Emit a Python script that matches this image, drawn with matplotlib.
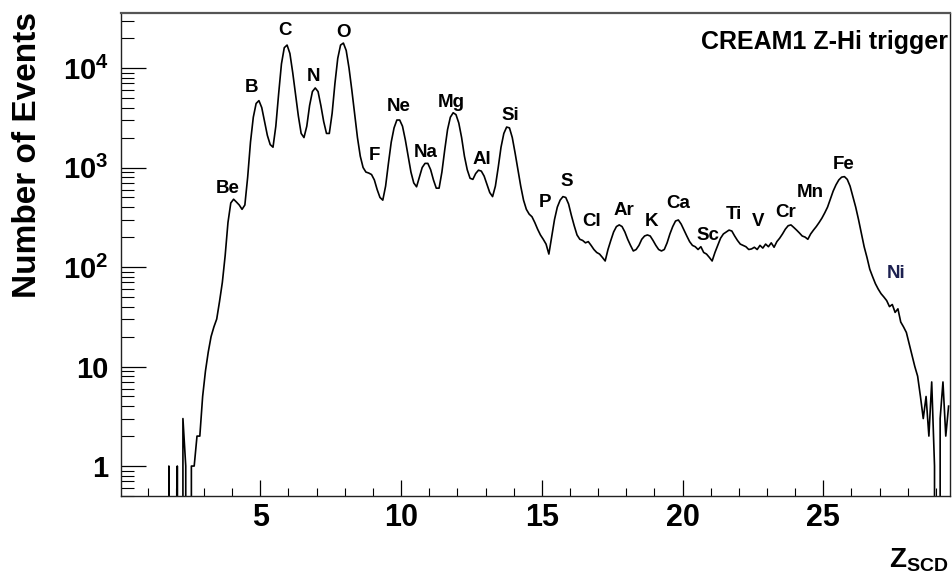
import numpy as np
import matplotlib
matplotlib.use("Agg")
import matplotlib.pyplot as plt
from matplotlib.ticker import FixedLocator, FixedFormatter, LogLocator, NullFormatter, MultipleLocator

plt.rcParams["font.family"] = ["Liberation Sans", "DejaVu Sans"]
plt.rcParams["font.weight"] = "bold"
plt.rcParams["mathtext.fontset"] = "custom"
plt.rcParams["mathtext.rm"] = "Liberation Sans:bold"
plt.rcParams["mathtext.bf"] = "Liberation Sans:bold"
plt.rcParams["mathtext.it"] = "Liberation Sans:bold"
plt.rcParams["mathtext.default"] = "rm"

# histogram of reconstructed charge, 0.1 wide bins from Z=0 to Z=29.5
bin_width = 0.1
counts = [
    0, 0, 0, 0, 0, 0, 0, 0, 0, 0,                                   # 0-1
    0, 0, 0, 0, 0, 0, 0, 1, 0, 0,                                   # 1-2
    1, 0, 3, 1, 0, 1, 1, 2, 2, 5,                                   # 2-3
    9, 14, 20, 25, 30, 45, 70, 130, 280, 440,                       # 3-4
    480, 450, 420, 380, 420, 800, 1800, 3200, 4400, 4700,           # 4-5
    4000, 2900, 2100, 1700, 1600, 2600, 5500, 11000, 16000, 17000,  # 5-6
    14000, 9000, 5500, 3300, 2200, 2000, 2600, 4200, 5800, 6300,    # 6-7
    5800, 4200, 2900, 2200, 2200, 3500, 7000, 12500, 17000, 17800,  # 7-8
    15000, 10000, 6000, 3500, 2000, 1300, 1000, 900, 880, 850,      # 8-9
    750, 600, 500, 470, 650, 1100, 1800, 2500, 3000, 3000,          # 9-10
    2600, 1900, 1300, 900, 700, 640, 800, 1000, 1100, 1100,         # 10-11
    950, 750, 620, 620, 900, 1500, 2400, 3200, 3550, 3400,          # 11-12
    2800, 2000, 1300, 950, 780, 760, 870, 940, 920, 820,            # 12-13
    680, 560, 510, 650, 1000, 1600, 2200, 2550, 2500, 2000,         # 13-14
    1400, 950, 650, 470, 380, 340, 320, 280, 240, 210,              # 14-15
    190, 170, 135, 200, 300, 400, 470, 510, 500, 430,               # 15-16
    330, 260, 210, 190, 185, 175, 180, 165, 150, 140,               # 16-17
    135, 125, 115, 150, 185, 225, 255, 265, 255, 225,               # 17-18
    190, 165, 145, 150, 165, 190, 205, 210, 205, 185,               # 18-19
    165, 150, 145, 150, 175, 215, 255, 290, 297, 270,               # 19-20
    235, 205, 180, 165, 160, 150, 160, 140, 135, 125,               # 20-21
    115, 140, 165, 195, 215, 225, 235, 230, 205, 185,               # 21-22
    170, 165, 160, 150, 152, 158, 150, 165, 155, 170,               # 22-23
    160, 175, 158, 180, 195, 215, 240, 260, 265, 250,               # 23-24
    235, 220, 205, 200, 190, 215, 235, 255, 280, 310,               # 24-25
    350, 400, 480, 580, 670, 750, 800, 810, 760, 650,               # 25-26
    510, 400, 300, 220, 160, 125, 95, 80, 68, 60,                   # 26-27
    54, 50, 46, 40, 42, 35, 38, 28, 25, 22,                         # 27-28
    17, 13, 10, 8, 5, 3, 5, 2, 7, 1,                                # 28-29
    0, 3, 7, 2, 4,                                                  # 29-29.5
]

elements = ["Be", "B", "C", "N", "O", "F", "Ne", "Na", "Mg", "Al", "Si", "P",
            "S", "Cl", "Ar", "K", "Ca", "Sc", "Ti", "V", "Cr", "Mn", "Fe", "Ni"]

# where each element name sits (Z, counts)
label_z = [3.83, 4.68, 5.89, 6.90, 7.96, 9.05, 9.90, 10.86, 11.78, 12.88, 13.87, 15.12,
           15.90, 16.78, 17.92, 18.91, 19.84, 20.90, 21.82, 22.68, 23.67, 24.52, 25.73, 27.58]
label_n = [622, 6295, 23550, 8300, 23000, 1306, 4150, 1400, 4550, 1190, 3295, 440,
           731, 290, 374, 290, 430, 205, 341, 290, 357, 567, 1084, 87]

y_ticks = [1, 10, 100, 1000, 10000]
y_ticklabels = ["1", "10", r"$10^{2}$", r"$10^{3}$", r"$10^{4}$"]

centers = (np.arange(len(counts)) + 0.5) * bin_width

fig = plt.figure(figsize=(9.53, 5.75), dpi=100)
ax = fig.add_axes([121 / 953, 79 / 575, 829 / 953, 483 / 575])

ax.set_yscale("log", nonpositive="clip")
ax.plot(centers, counts, color="black", linewidth=1.2)

ax.set_xlim(0.05, 29.5)
ax.set_ylim(0.5, 3.57e4)

ax.xaxis.set_major_locator(MultipleLocator(5))
ax.xaxis.set_minor_locator(MultipleLocator(1))
ax.yaxis.set_major_locator(FixedLocator(y_ticks))
ax.yaxis.set_major_formatter(FixedFormatter(y_ticklabels))
ax.yaxis.set_minor_locator(LogLocator(base=10, subs=np.arange(2, 10)))
ax.yaxis.set_minor_formatter(NullFormatter())

ax.tick_params(axis="x", which="major", direction="in", length=11.5, width=0.9,
               labelsize=22, pad=5, top=False)
ax.tick_params(axis="x", which="minor", direction="in", length=6, width=0.8, top=False)
ax.tick_params(axis="y", which="major", direction="in", length=18, width=0.9,
               labelsize=21, pad=9, right=False)
ax.tick_params(axis="y", which="minor", direction="in", length=9, width=0.8, right=False)

for side in ["left", "bottom", "right"]:
    ax.spines[side].set_linewidth(1.0)
    ax.spines[side].set_color("#222222")
ax.spines["top"].set_linewidth(1.6)
ax.spines["top"].set_color("#555555")

for name, z, n in zip(elements, label_z, label_n):
    color = "#1c2050" if name == "Ni" else "black"
    ax.text(z, n, name, ha="center", va="center", fontsize=13.5,
            fontweight="bold", color=color)

ax.text(0.9976, 0.965, "CREAM1 Z-Hi trigger", transform=ax.transAxes,
        ha="right", va="top", fontsize=18, fontweight="bold")

ax.set_xlabel(r"$Z_{SCD}$", fontsize=20, loc="right")
ax.xaxis.set_label_coords(0.9976, -0.105)

fig.text(28 / 953, 1 - 12 / 575, "Number of Events", rotation=90,
         ha="center", va="top", fontsize=24, fontweight="bold")

fig.savefig("out.png", dpi=100)
